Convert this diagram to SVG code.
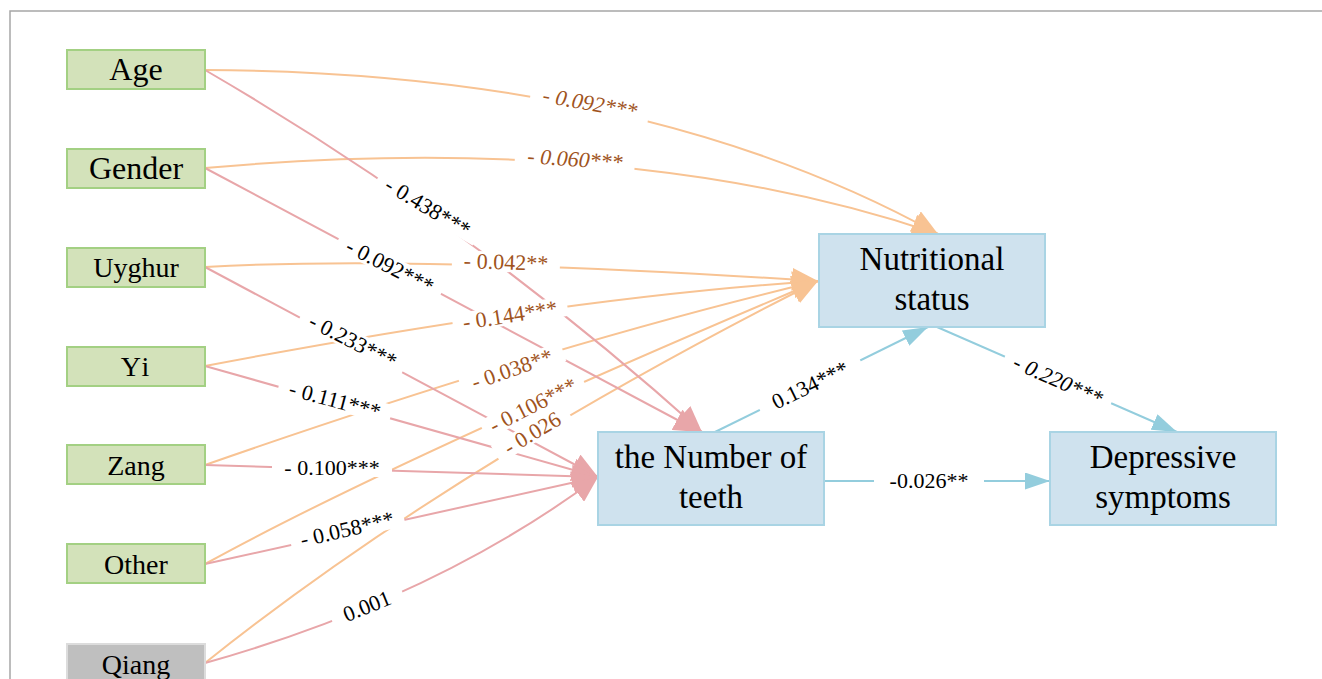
<svg xmlns="http://www.w3.org/2000/svg" width="1322" height="679" viewBox="0 0 1322 679">
<style>
.frame{stroke:#a6a6a6;stroke-width:1.5;fill:none}
.src rect{fill:#d3e2ba;stroke:#a3d083;stroke-width:2}
.ref rect{fill:#bfbfbf;stroke:#dcdcdc;stroke-width:2}
.med rect{fill:#cfe2ee;stroke:#a9d4e4;stroke-width:2}
.nt{font-family:"Liberation Serif","Times New Roman",serif;fill:#000;text-anchor:middle}
.s28{font-size:28px}
.s32{font-size:32px}
.s33{font-size:33px}
.eo{fill:none;stroke:#f8c393;stroke-width:2}
.ep{fill:none;stroke:#e8a6a9;stroke-width:2}
.eb{fill:none;stroke:#93cddd;stroke-width:2}
.lbl rect{fill:#fff}
.lbl text{font-family:"Liberation Serif","Times New Roman",serif;font-size:22px;text-anchor:middle}
.k{fill:#000}
.o{fill:#a0531c}
.it{font-style:italic}
</style>
<defs>
<marker id="ao" markerUnits="userSpaceOnUse" markerWidth="26" markerHeight="23" refX="26" refY="11.5" orient="auto"><path d="M0,0 L26,11.5 L0,23 z" fill="#f8c393"/></marker>
<marker id="ap" markerUnits="userSpaceOnUse" markerWidth="26" markerHeight="23" refX="26" refY="11.5" orient="auto"><path d="M0,0 L26,11.5 L0,23 z" fill="#e8a6a9"/></marker>
<marker id="ab" markerUnits="userSpaceOnUse" markerWidth="25" markerHeight="17" refX="25" refY="8.5" orient="auto"><path d="M0,0 L25,8.5 L0,17 z" fill="#93cddd"/></marker>
</defs>
<rect width="1322" height="679" fill="#fff"/>
<path class="frame" d="M10,679 L10,11 L1322,11"/>

<g id="connectors">
  <path class="eo" marker-end="url(#ao)" d="M205,70 Q645,72 938,234"/>
  <path class="eo" marker-end="url(#ao)" d="M205,168 Q632,130 938,234"/>
  <path class="eo" marker-end="url(#ao)" d="M205,267 Q411,255 818,281"/>
  <path class="eo" marker-end="url(#ao)" d="M205,366 Q568,297 818,281"/>
  <path class="eo" marker-end="url(#ao)" d="M205,465 Q552,344 818,281"/>
  <path class="eo" marker-end="url(#ao)" d="M205,564 Q394,460 818,281"/>
  <path class="eo" marker-end="url(#ao)" d="M205,663 Q450,467 818,281"/>

  <path class="ep" marker-end="url(#ap)" d="M205,70 Q472,225 702,432"/>
  <path class="ep" marker-end="url(#ap)" d="M205,168 L700,432"/>
  <path class="ep" marker-end="url(#ap)" d="M205,267 L598,477"/>
  <path class="ep" marker-end="url(#ap)" d="M205,366 L598,477"/>
  <path class="ep" marker-end="url(#ap)" d="M205,465 L598,477"/>
  <path class="ep" marker-end="url(#ap)" d="M205,564 L598,477"/>
  <path class="ep" marker-end="url(#ap)" d="M205,663 Q436,598 598,477"/>

  <path class="eb" marker-end="url(#ab)" d="M715,432 L928,327"/>
  <path class="eb" marker-end="url(#ab)" d="M937,327 L1177,432"/>
  <path class="eb" marker-end="url(#ab)" d="M824,481 L1050,481"/>

  <g class="lbl">
    <g transform="translate(590,103) rotate(10)"><rect x="-60" y="-11" width="120" height="22"/><text class="o it" y="7.5">- 0.092***</text></g>
    <g transform="translate(575,159) rotate(4)"><rect x="-60" y="-11" width="120" height="22"/><text class="o it" y="7.5">- 0.060***</text></g>
    <g transform="translate(428,207) rotate(31)"><rect x="-58" y="-10" width="116" height="20"/><text class="k" y="7.5">- 0.438***</text></g>
    <g transform="translate(390,266) rotate(27)"><rect x="-58" y="-10" width="116" height="20"/><text class="k" y="7.5">- 0.092***</text></g>
    <g transform="translate(506,262) rotate(2)"><rect x="-54" y="-10" width="108" height="20"/><text class="o" y="7.5">- 0.042**</text></g>
    <g transform="translate(510,315) rotate(-9)"><rect x="-58" y="-10" width="116" height="20"/><text class="o" y="7.5">- 0.144***</text></g>
    <g transform="translate(353,341) rotate(27)"><rect x="-58" y="-10" width="116" height="20"/><text class="k" y="7.5">- 0.233***</text></g>
    <g transform="translate(335,400) rotate(15)"><rect x="-58" y="-10" width="116" height="20"/><text class="k" y="7.5">- 0.111***</text></g>
    <g transform="translate(512,369) rotate(-19)"><rect x="-54" y="-10" width="108" height="20"/><text class="o" y="7.5">- 0.038**</text></g>
    <g transform="translate(533,405) rotate(-27)"><rect x="-56" y="-10" width="112" height="20"/><text class="o" y="7.5">- 0.106***</text></g>
    <g transform="translate(532,433) rotate(-31)"><rect x="-42" y="-10" width="84" height="20"/><text class="o" y="7.5">- 0.026</text></g>
    <g transform="translate(332,467)"><rect x="-60" y="-10" width="120" height="20"/><text class="k" y="7.5">- 0.100***</text></g>
    <g transform="translate(347,529) rotate(-13)"><rect x="-58" y="-10" width="116" height="20"/><text class="k" y="7.5">- 0.058***</text></g>
    <g transform="translate(367,606) rotate(-22)"><rect x="-38" y="-10" width="76" height="20"/><text class="k" y="7.5">0.001</text></g>
    <g transform="translate(810,385) rotate(-26)"><rect x="-56" y="-10" width="112" height="20"/><text class="k" y="7.5">0.134***</text></g>
    <g transform="translate(1058,380) rotate(24)"><rect x="-58" y="-10" width="116" height="20"/><text class="k it" y="7.5">- 0.220***</text></g>
    <g transform="translate(929,480)"><rect x="-55" y="-10" width="110" height="20"/><text class="k" y="7.5">-0.026**</text></g>
  </g>
</g>

<g id="node-age" class="src"><rect x="67" y="50" width="138" height="39"/><text class="nt s32" x="136" y="80">Age</text></g>
<g id="node-gender" class="src"><rect x="67" y="149" width="138" height="39"/><text class="nt s32" x="136" y="179">Gender</text></g>
<g id="node-uyghur" class="src"><rect x="67" y="248" width="138" height="39"/><text class="nt s28" x="136" y="277">Uyghur</text></g>
<g id="node-yi" class="src"><rect x="67" y="347" width="138" height="39"/><text class="nt s28" x="136" y="376" letter-spacing="2">Yi</text></g>
<g id="node-zang" class="src"><rect x="67" y="445" width="138" height="39"/><text class="nt s28" x="136" y="475">Zang</text></g>
<g id="node-other" class="src"><rect x="67" y="544" width="138" height="39"/><text class="nt s28" x="136" y="574">Other</text></g>
<g id="node-qiang" class="ref"><rect x="67" y="644" width="138" height="39"/><text class="nt s28" x="136" y="674">Qiang</text></g>

<g id="node-nutrition" class="med"><rect x="819" y="234" width="226" height="93"/><text class="nt s33" x="932" y="270">Nutritional</text><text class="nt s33" x="932" y="310">status</text></g>
<g id="node-teeth" class="med"><rect x="598" y="432" width="226" height="93"/><text class="nt s33" x="711" y="468">the Number of</text><text class="nt s33" x="711" y="508">teeth</text></g>
<g id="node-depression" class="med"><rect x="1050" y="432" width="226" height="93"/><text class="nt s33" x="1163" y="468">Depressive</text><text class="nt s33" x="1163" y="508">symptoms</text></g>
</svg>
